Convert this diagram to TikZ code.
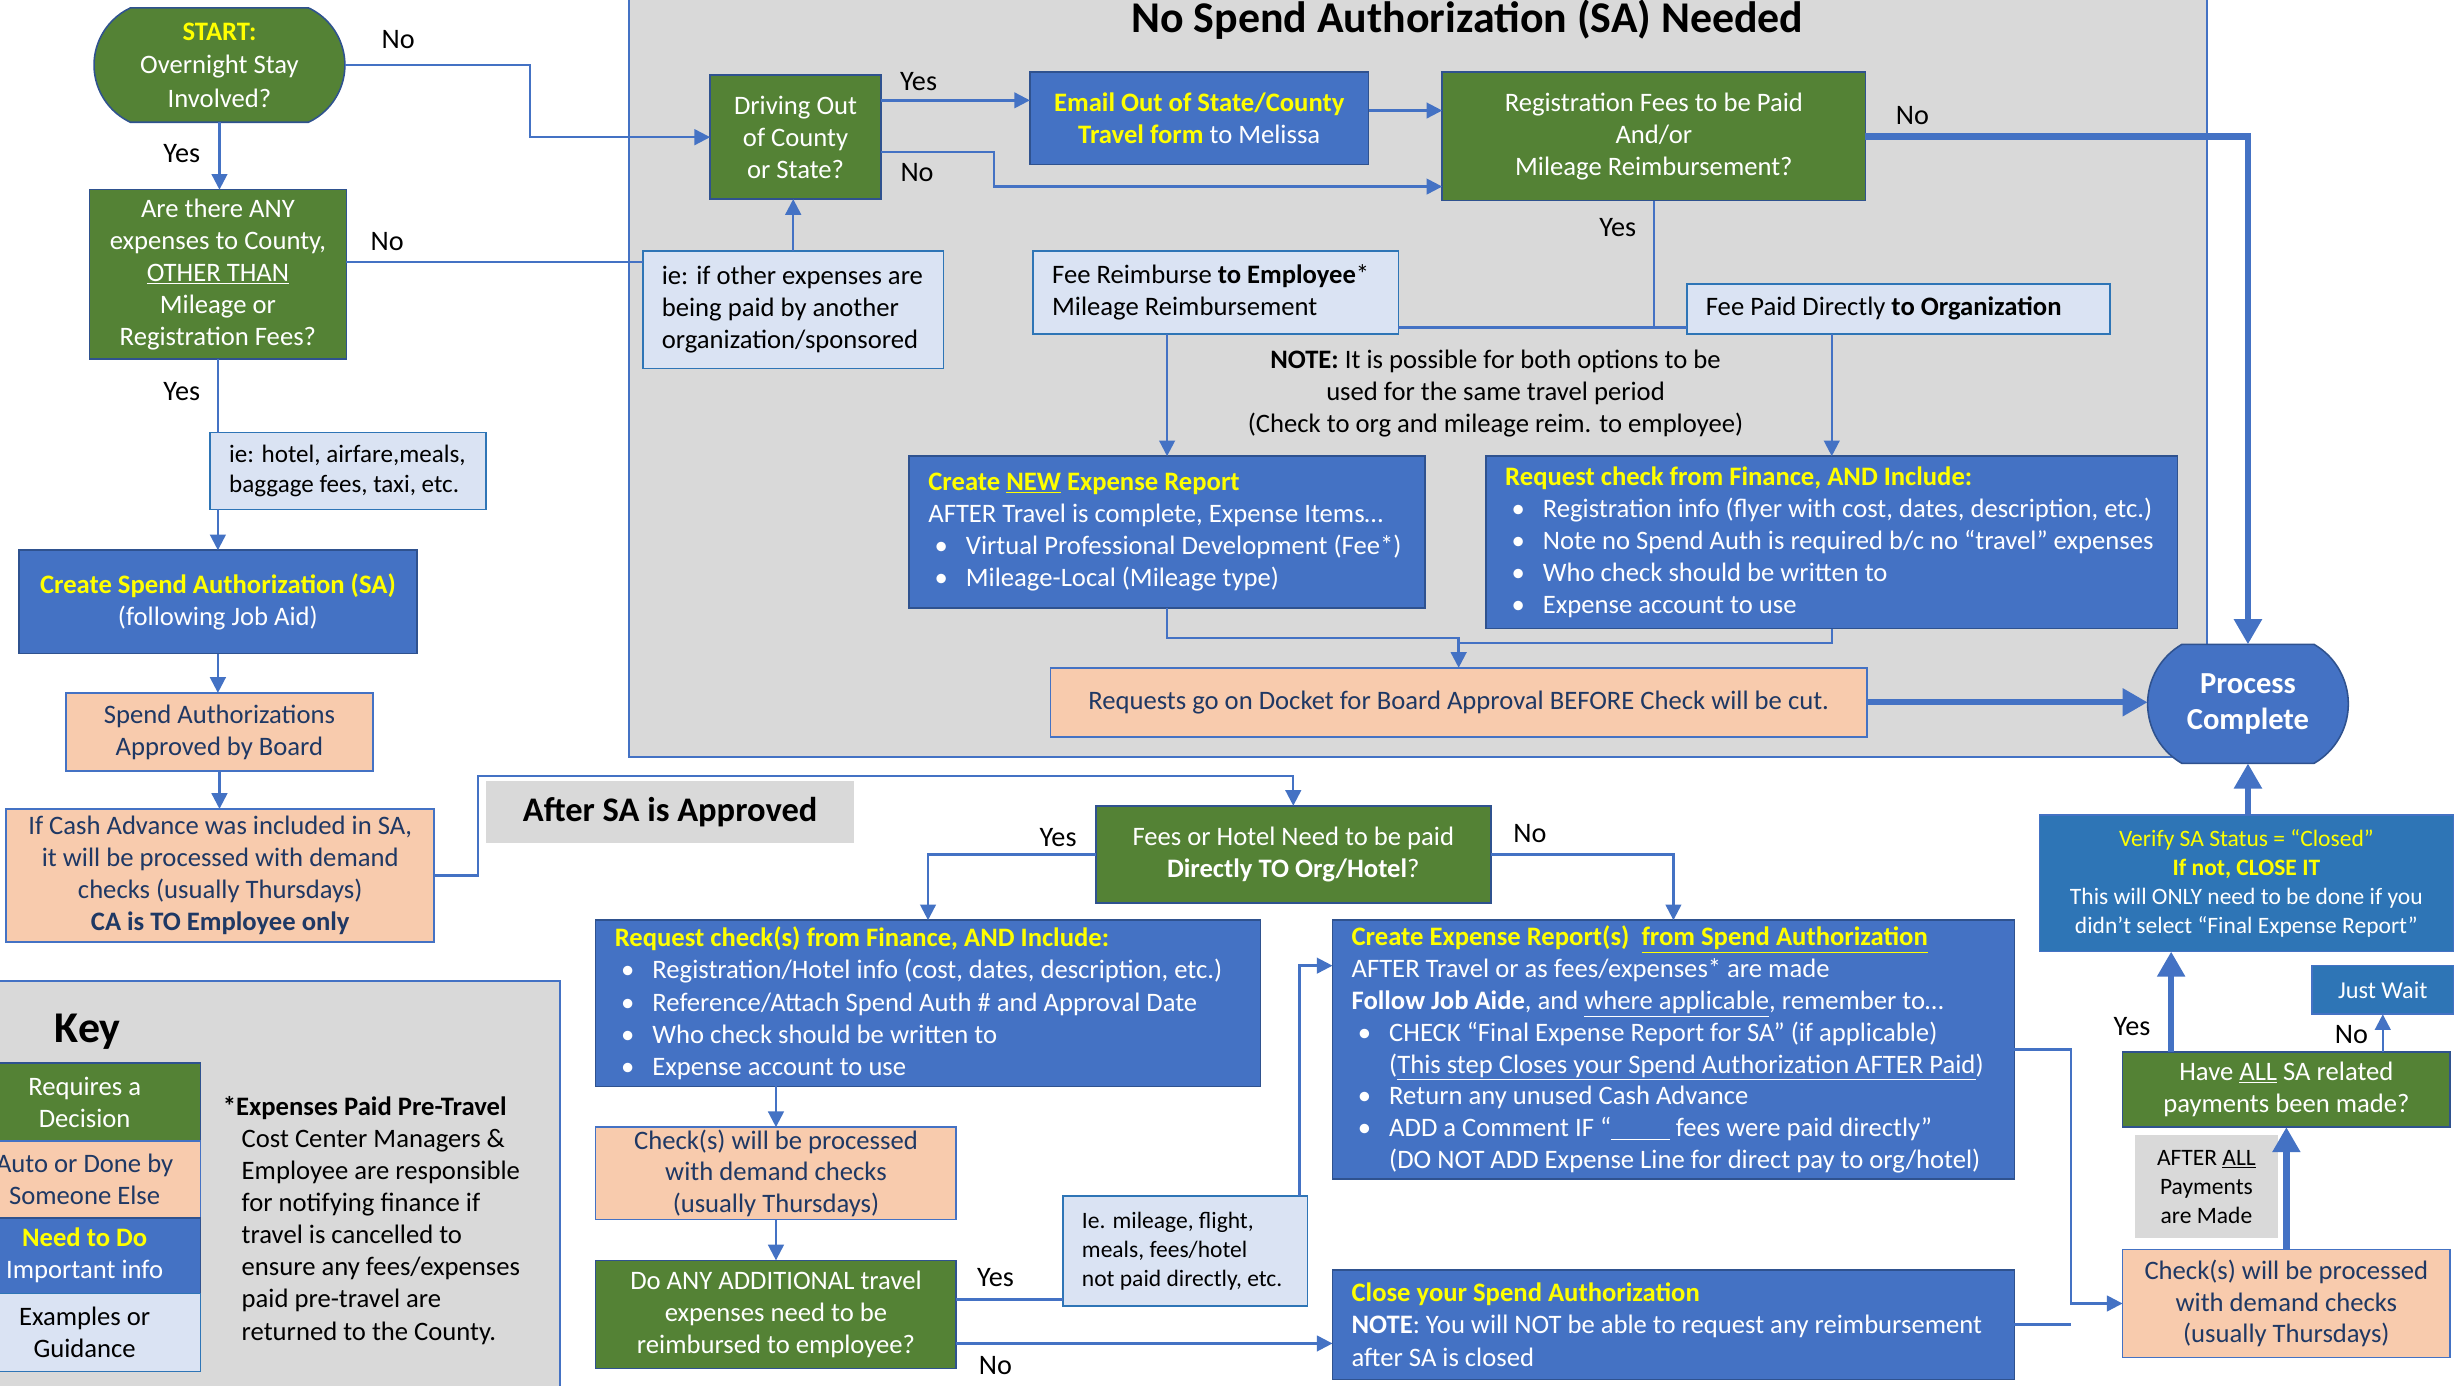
\documentclass[tikz,border=0pt]{standalone}
\usepackage{fontspec}
\setmainfont{Carlito}
\usetikzlibrary{arrows.meta,shapes.misc,calc}
\definecolor{cgreen}{HTML}{548235}
\definecolor{cblue}{HTML}{4472C4}
\definecolor{cdblue}{HTML}{2E75B6}
\definecolor{cpeach}{HTML}{F8CBAD}
\definecolor{clb}{HTML}{DAE3F3}
\definecolor{cgray}{HTML}{D9D9D9}
\definecolor{cyel}{HTML}{FFFF00}
\definecolor{cnavy}{HTML}{1F3864}
\definecolor{cbord}{HTML}{2F528F}
\definecolor{cline}{HTML}{4472C4}
\newcommand\fs{\fontsize{17}{20.5}\selectfont}
\newcommand\fsm{\fontsize{15}{18.5}\selectfont}
\newcommand\flab{\fontsize{18}{21}\selectfont}
\newcommand\bul{\hspace*{4pt}\makebox[20pt][l]{•}}
\newcommand\ind{\hspace*{24pt}}
\tikzset{
  bb/.style n args={4}{minimum width={(#3-#1)*1pt}, minimum height={(#4-#2)*1pt}, at={({(#1+#3)/2},{(#2+#4)/2})}},
  box/.style={rectangle, inner sep=0pt, outer sep=0pt, align=center, font=\fs, line width=1pt},
  gbox/.style={box, fill=cgreen, draw=cbord, text=white},
  bbox/.style={box, fill=cblue, draw=cbord, text=white},
  dbox/.style={box, fill=cdblue, draw=cblue, text=white},
  pbox/.style={box, fill=cpeach, draw=cblue, text=cnavy},
  lbox/.style={box, fill=clb, draw=cdblue, text=black},
  graybg/.style={box, fill=cgray, draw=cblue, line width=1.2pt},
  tx/.style={anchor=west, align=left, inner sep=0pt, font=\fs},
  lab/.style={inner sep=0pt, font=\flab},
  conn/.style={draw=cline, line width=1.5pt},
  arr/.style={conn, -{Triangle[length=10pt,width=10pt]}},
  tarr/.style={draw=cline, line width=4pt, -{Triangle[length=16pt,width=17pt]}},
}
\begin{document}
\begin{tikzpicture}[x=1pt,y=-1pt]
\useasboundingbox (0,0) rectangle (1568,884);
\clip (0,0) rectangle (1568,884);
\fill[white] (0,0) rectangle (1568,884);

% ---------- background regions ----------
\node[graybg, bb={401}{-10}{1408}{483}] (nosa) {};
\node[font=\fontsize{28}{32}\selectfont\bfseries, inner sep=0pt, anchor=base] (title) at (936,21) {No Spend Authorization (SA) Needed};
\node[graybg, bb={-10}{626}{357}{894}] (keybg) {};
\node[font=\fontsize{28}{32}\selectfont\bfseries, inner sep=0pt, anchor=base] (keyt) at (56,665) {Key};

% ---------- left column ----------
\node[gbox, rounded rectangle, rounded rectangle arc length=130, bb={60}{5}{220}{78}, font=\fontsize{17}{21.5}\selectfont] (start) {{\color{cyel}\bfseries START:}\\Overnight Stay\\Involved?};
\node[gbox, bb={57}{121}{221}{229}] (q1) {Are there ANY\\expenses to County,\\\underline{OTHER THAN}\\Mileage or\\Registration Fees?};
\node[lbox, bb={134}{276}{310}{325}] (ie1) {};
\node[tx, font=\fontsize{16}{19}\selectfont] (ie1t) at ([xshift=12pt]ie1.west) {ie: hotel, airfare,meals,\\baggage fees, taxi, etc.};
\node[bbox, bb={12}{351}{266}{417}, font=\fontsize{17}{20}\selectfont] (sa) {{\color{cyel}\bfseries Create Spend Authorization (SA)}\\(following Job Aid)};
\node[pbox, bb={42}{442}{238}{492}] (sab) {Spend Authorizations\\Approved by Board};
\node[pbox, bb={4}{516}{277}{601}] (ca) {If Cash Advance was included in SA,\\it will be processed with demand\\checks (usually Thursdays)\\\textbf{CA is TO Employee only}};

% ---------- No SA region ----------
\node[gbox, bb={453}{48}{562}{127}] (drv) {Driving Out\\of County\\or State?};
\node[bbox, bb={657}{46}{873}{105}] (em) {{\bfseries\color{cyel}Email Out of State/County}\\{\bfseries\color{cyel}Travel form} to Melissa};
\node[gbox, bb={920}{46}{1190}{128}] (reg) {Registration Fees to be Paid\\And/or\\Mileage Reimbursement?};
\node[lbox, bb={410}{160}{602}{235}] (ie2) {};
\node[tx] (ie2t) at ([xshift=12pt]ie2.west) {ie: if other expenses are\\being paid by another\\organization/sponsored};
\node[lbox, bb={659}{160}{892}{213}] (fre) {};
\node[tx] (fret) at ([xshift=12pt]fre.west) {Fee Reimburse \textbf{to Employee}*\\Mileage Reimbursement};
\node[lbox, bb={1076}{181}{1346}{213}] (fpd) {};
\node[tx] (fpdt) at ([xshift=12pt]fpd.west) {Fee Paid Directly \textbf{to Organization}};
\node[align=center, inner sep=0pt, font=\fs] (note) at (954,251) {\textbf{NOTE:} It is possible for both options to be\\used for the same travel period\\(Check to org and mileage reim. to employee)};
\node[bbox, bb={580}{291}{909}{388}] (cne) {};
\node[tx, text=white] (cnet) at ([xshift=12pt]cne.west) {{\color{cyel}\bfseries Create \underline{NEW} Expense Report}\\AFTER Travel is complete, Expense Items…\\\bul Virtual Professional Development (Fee*)\\\bul Mileage-Local (Mileage type)};
\node[bbox, bb={948}{291}{1389}{401}] (rcf) {};
\node[tx, text=white] (rcft) at ([xshift=12pt]rcf.west) {{\color{cyel}\bfseries Request check from Finance, AND Include:}\\\bul Registration info (flyer with cost, dates, description, etc.)\\\bul Note no Spend Auth is required b/c no “travel” expenses\\\bul Who check should be written to\\\bul Expense account to use};
\node[pbox, bb={670}{426}{1191}{470}] (dock) {Requests go on Docket for Board Approval BEFORE Check will be cut.};
\node[bbox, rounded rectangle, rounded rectangle arc length=120, bb={1370}{411}{1498}{487}, font=\fontsize{19.5}{23}\selectfont\bfseries] (pc) {Process\\Complete};

% ---------- After SA region ----------
\node[box, fill=cgray, bb={310}{498}{545}{538}, font=\fontsize{22}{26}\selectfont\bfseries] (asa) {After SA is Approved};
\node[gbox, bb={699}{514}{951}{576}] (fh) {Fees or Hotel Need to be paid\\\textbf{Directly TO Org/Hotel}?};
\node[bbox, bb={380}{587}{804}{693}] (rc2) {};
\node[tx, text=white] (rc2t) at ([xshift=12pt]rc2.west) {{\color{cyel}\bfseries Request check(s) from Finance, AND Include:}\\\bul Registration/Hotel info (cost, dates, description, etc.)\\\bul Reference/Attach Spend Auth \# and Approval Date\\\bul Who check should be written to\\\bul Expense account to use};
\node[pbox, bb={380}{719}{610}{778}, font=\fontsize{17}{20}\selectfont] (chk) {Check(s) will be processed\\with demand checks\\(usually Thursdays)};
\node[gbox, bb={380}{804}{610}{873}] (add) {Do ANY ADDITIONAL travel\\expenses need to be\\reimbursed to employee?};
\node[lbox, bb={678}{763}{834}{833}] (iem) {};
\node[tx, font=\fontsize{15}{18.5}\selectfont] (iemt) at ([xshift=12pt]iem.west) {Ie. mileage, flight,\\meals, fees/hotel\\not paid directly, etc.};
\node[bbox, bb={850}{587}{1285}{752}] (cer) {};
\node[tx, text=white, font=\fontsize{17}{20.3}\selectfont] (cert) at ([xshift=12pt]cer.west) {{\color{cyel}\bfseries Create Expense Report(s)\ \ \underline{from Spend Authorization}}\\AFTER Travel or as fees/expenses* are made\\\textbf{Follow Job Aide}, and \underline{where applicable}, remember to…\\\bul CHECK “Final Expense Report for SA” (if applicable)\\\ind(\underline{This step Closes your Spend Authorization AFTER Paid})\\\bul Return any unused Cash Advance\\\bul ADD a Comment IF “\underline{\hspace{2.2em}} fees were paid directly”\\\ind(DO NOT ADD Expense Line for direct pay to org/hotel)};
\node[bbox, bb={850}{810}{1285}{880}] (close) {};
\node[tx, text=white] (closet) at ([xshift=12pt]close.west) {{\color{cyel}\bfseries Close your Spend Authorization}\\\textbf{NOTE}: You will NOT be able to request any reimbursement\\after SA is closed};
\node[pbox, bb={1354}{797}{1563}{866}, font=\fontsize{17}{20}\selectfont] (chk2) {Check(s) will be processed\\with demand checks\\(usually Thursdays)};
\node[box, fill=cgray, bb={1362}{724}{1453}{790}, font=\fsm] (aap) {AFTER \underline{ALL}\\Payments\\are Made};
\node[gbox, bb={1354}{671}{1563}{719}] (have) {Have \underline{ALL} SA related\\payments been made?};
\node[dbox, bb={1475}{616}{1565}{647}, font=\fontsize{15.5}{18.5}\selectfont] (jw) {Just Wait};
\node[dbox, bb={1301}{520}{1565}{607}, font=\fsm] (ver) {{\color{cyel}Verify SA Status = “Closed”}\\{\color{cyel}\bfseries If not, CLOSE IT}\\This will ONLY need to be done if you\\didn’t select “Final Expense Report”};

% ---------- Key ----------
\node[gbox, bb={-20}{678}{128}{728}] (k1) {Requires a\\Decision};
\node[pbox, bb={-20}{728}{128}{777}] (k2) {Auto or Done by\\Someone Else};
\node[bbox, bb={-20}{777}{128}{825}] (k3) {{\color{cyel}\bfseries Need to Do}\\Important info};
\node[lbox, bb={-20}{825}{128}{875}] (k4) {Examples or\\Guidance};
\node[tx, anchor=north west] (fn) at (142,699) {\textbf{*Expenses Paid Pre-Travel}\\\hspace*{12pt}Cost Center Managers \&\\\hspace*{12pt}Employee are responsible\\\hspace*{12pt}for notifying finance if\\\hspace*{12pt}travel is cancelled to\\\hspace*{12pt}ensure any fees/expenses\\\hspace*{12pt}paid pre-travel are\\\hspace*{12pt}returned to the County.};

% ---------- connectors ----------
\draw[arr] (start.east) -- ++(118,0) |- (drv.west);
\draw[arr] (start.south) -- (start.south |- q1.north);
\coordinate (q1n) at ([yshift=8pt]q1.east);
\draw[conn] (q1n) -- (q1n -| ie2.west);
\draw[conn] (q1.south) -- (q1.south |- ie1.north);
\draw[arr] (q1.south |- ie1.south) -- (sa.north);
\draw[arr] (sa.south) -- (sa.south |- sab.north);
\draw[arr] (sab.south) -- (sab.south |- ca.north);
\draw[arr] (ca.east) -| (305,495) -| (fh.north);

\coordinate (dy) at ([yshift=23.5pt]drv.east);
\draw[arr] (dy) -- (dy -| em.west);
\coordinate (dno) at ([yshift=-9.5pt]drv.east);
\draw[arr] (dno) -- ++(72,0) |- ([yshift=-32pt]reg.west);
\coordinate (ee) at ([yshift=5pt]em.east);
\draw[arr] (ee) -- (ee -| reg.west);
\draw[arr] (ie2.north) -- (ie2.north |- drv.south);
\draw[tarr] (reg.east) -| (pc.north);
\coordinate (jn) at ([yshift=4pt]fpd.south west);
\draw[conn] (reg.south) -- (reg.south |- jn);
\draw[conn] (fre.east |- jn) -- (jn);
\draw[arr] (cne.north |- fre.south) -- (cne.north);
\draw[arr] (rcf.north |- fpd.south) -- (rcf.north);
\draw[arr] (cne.south) -- ++(0,19) -| (dock.north);
\draw[conn] (rcf.south) |- ([yshift=16pt]dock.north);
\draw[tarr] (dock.east) -- (dock.east -| pc.west);
\draw[tarr] (ver.north -| pc.south) -- (pc.south);

\draw[arr] (fh.west) -| (rc2.north);
\draw[arr] (fh.east) -| (cer.north);
\draw[arr] (chk.north |- rc2.south) -- (chk.north);
\draw[arr] (chk.south) -- (add.north);
\coordinate (ay) at ([yshift=9.5pt]add.east);
\draw[conn] (ay) -- (ay -| iem.west);
\coordinate (an) at ([yshift=-18.5pt]add.east);
\draw[arr] (an) -- (an -| close.west);
\coordinate (iu) at ([xshift=-5pt]iem.north east);
\draw[arr] (iu) |- ([yshift=53.5pt]cer.west);
\draw[arr] (cer.east) -- ++(36,0) |- (chk2.west);
\draw[conn] (close.east) -- ++(36,0);
\draw[tarr] (chk2.north) -- (have.south);
\coordinate (hy) at ([xshift=31pt]have.north west);
\draw[tarr] (hy) -- (hy |- ver.south);
\draw[arr] (jw.south |- have.north) -- (jw.south);

% ---------- labels ----------
\node[lab] (l1) at (254,25) {No};
\node[lab] (l2) at (116,98) {Yes};
\node[lab] (l3) at (247,154) {No};
\node[lab] (l4) at (116,250) {Yes};
\node[lab] (l5) at (586,52) {Yes};
\node[lab] (l6) at (585,110) {No};
\node[lab] (l7) at (1220,74) {No};
\node[lab] (l8) at (1032,145) {Yes};
\node[lab] (l9) at (675,534) {Yes};
\node[lab] (l10) at (976,532) {No};
\node[lab] (l11) at (635,815) {Yes};
\node[lab] (l12) at (635,871) {No};
\node[lab] (l13) at (1360,655) {Yes};
\node[lab] (l14) at (1500,660) {No};
\end{tikzpicture}
\end{document}
